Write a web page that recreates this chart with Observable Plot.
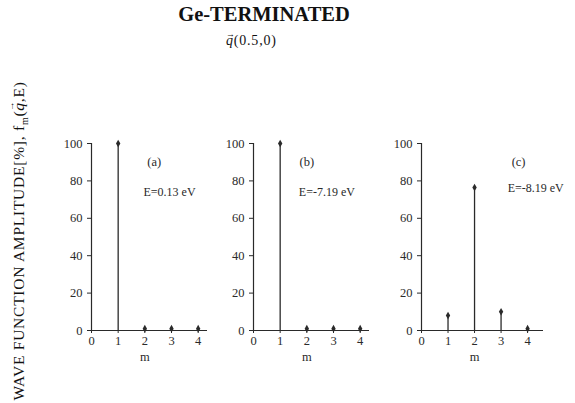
<!DOCTYPE html>
<html>
<head>
<meta charset="utf-8">
<script src="https://cdn.jsdelivr.net/npm/d3@7"></script>
<script src="https://cdn.jsdelivr.net/npm/@observablehq/plot@0.6"></script>
<style>
  html, body { margin: 0; padding: 0; background: #fff; }
  #wrap { position: relative; width: 575px; height: 403px; overflow: hidden; font-family: "Liberation Serif", "Times New Roman", serif; color: #111; }
  .abs { position: absolute; white-space: nowrap; }
  #title { left: 0; width: 528px; top: 3px; text-align: center; font-size: 20.5px; font-weight: bold; }
  #subtitle { left: 226px; top: 33px; font-size: 14px; letter-spacing: 0.8px; }
  #ylab { left: 19px; top: 241px; font-size: 15.5px; letter-spacing: 0.75px; line-height: 16px; transform: translate(-50%, -50%) rotate(-90deg); }
  .vec { position: relative; font-style: italic; }
  .vec .arr { position: absolute; left: 0; top: 1px; line-height: 0; font-size: 9px; font-style: normal; letter-spacing: 0; }
  .panel { position: absolute; top: 130px; }
  .panel svg { overflow: visible; }
</style>
</head>
<body>
<div id="wrap">
  <div id="title" class="abs">Ge-TERMINATED</div>
  <div id="subtitle" class="abs"><span class="vec">q<span class="arr">&#8594;</span></span>(0.5,0)</div>
  <div id="ylab" class="abs">WAVE FUNCTION AMPLITUDE[%], f<sub style="font-size:10px;line-height:0;">m</sub>(<span class="vec">q<span class="arr">&#8594;</span></span>,E)</div>
  <div id="pa" class="panel"></div>
  <div id="pb" class="panel"></div>
  <div id="pc" class="panel"></div>
</div>
<script>
// ---- data ----
const panelLabels = ["(a)", "(b)", "(c)"];
const energyLabels = ["E=0.13 eV", "E=-7.19 eV", "E=-8.19 eV"];
const mValues = [1, 2, 3, 4];
const ampA = [100, 1, 1, 1];
const ampB = [100, 1, 1, 1];
const ampC = [8, 76.5, 10, 1];
const xTicks = [0, 1, 2, 3, 4];
const yTicks = [0, 20, 40, 60, 80, 100];
const xLabel = "m";

// ---- layout (positions / styles) ----
const layout = [
  {id: "pa", left: 61, xMax: 4.35, width: 151, lab: [2.35, 90], en: [1.95, 74]},
  {id: "pb", left: 223, xMax: 4.35, width: 151, lab: [2.0, 90], en: [1.7, 74]},
  {id: "pc", left: 391, xMax: 4.6, width: 157, lab: [3.66, 90], en: [3.25, 76]}
];
const series = [ampA, ampB, ampC];
const ink = "#2a2a2a";

layout.forEach((L, i) => {
  const data = mValues.map((m, j) => ({m, v: series[i][j]}));
  const chart = Plot.plot({
    width: L.width,
    height: 240,
    marginLeft: 30,
    marginRight: 5,
    marginTop: 13,
    marginBottom: 40,
    style: {fontFamily: "'Liberation Serif', 'Times New Roman', serif", fontSize: "12.5px", color: ink, background: "transparent"},
    x: {domain: [0, L.xMax], ticks: xTicks, tickSize: 3, tickPadding: 3, label: null, tickFormat: d => String(d)},
    y: {domain: [0, 100], ticks: yTicks, tickSize: 4, tickPadding: 5, label: null},
    marks: [
      Plot.ruleY([0], {stroke: ink, strokeWidth: 1.2}),
      Plot.ruleX([0], {y1: 0, y2: 100, stroke: ink, strokeWidth: 1.2}),
      Plot.ruleX(data, {x: "m", y1: 0, y2: "v", stroke: ink, strokeWidth: 1.3}),
      Plot.dot(data, {x: "m", y: "v", symbol: "diamond", r: 2.3, fill: ink, stroke: "none"}),
      Plot.text([panelLabels[i]], {x: L.lab[0], y: L.lab[1], text: d => d, fontSize: 12.5, textAnchor: "middle", fill: ink}),
      Plot.text([energyLabels[i]], {x: L.en[0], y: L.en[1], text: d => d, fontSize: 12, textAnchor: "start", fill: ink}),
      Plot.text([xLabel], {x: 2, frameAnchor: "bottom", dy: 30, text: d => d, fontSize: 12.5, fill: ink})
    ]
  });
  const el = document.getElementById(L.id);
  el.style.left = L.left + "px";
  el.appendChild(chart);
});
</script>
</body>
</html>
